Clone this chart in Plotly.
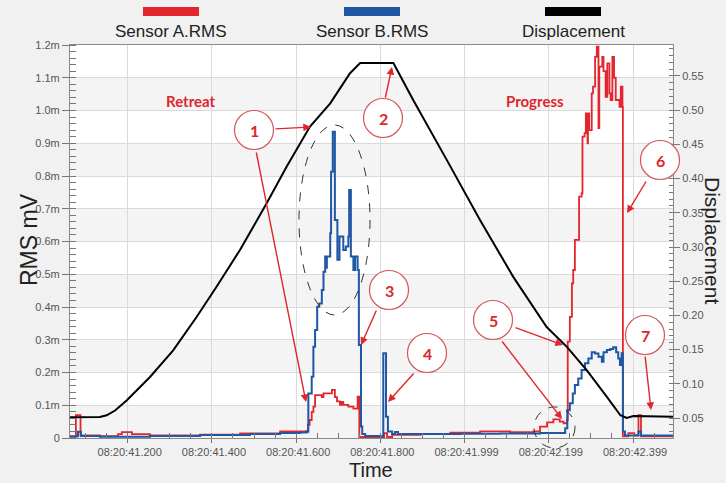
import plotly.graph_objects as go

# ---- data -------------------------------------------------------------
# time in seconds after 08:20:00, RMS values in m-units (1.0 -> "1.0m")
red_t = [41.063, 41.077, 41.088, 41.134, 41.177, 41.186, 41.210, 41.253, 41.372,
         41.467, 41.562, 41.609, 41.625, 41.628, 41.632, 41.637, 41.641, 41.645,
         41.661, 41.665, 41.676, 41.685, 41.692, 41.697, 41.704, 41.708, 41.712,
         41.724, 41.736, 41.746, 41.750, 41.806, 41.809, 41.816, 41.828, 41.895,
         41.966, 42.037, 42.108, 42.163, 42.179, 42.196, 42.211, 42.226, 42.235,
         42.243, 42.245, 42.250, 42.255, 42.258, 42.262, 42.272, 42.278, 42.280,
         42.285, 42.288, 42.292, 42.293, 42.296, 42.302, 42.305, 42.310, 42.314,
         42.318, 42.320, 42.327, 42.330, 42.335, 42.339, 42.344, 42.347, 42.351,
         42.355, 42.359, 42.368, 42.371, 42.375, 42.376, 42.389, 42.403, 42.413,
         42.419, 42.495]
red_v = [0.006, 0.070, 0.008, 0.006, 0.012, 0.018, 0.012, 0.008, 0.010,
         0.014, 0.020, 0.020, 0.022, 0.040, 0.055, 0.080, 0.096, 0.131,
         0.125, 0.136, 0.136, 0.147, 0.125, 0.112, 0.101, 0.110, 0.101,
         0.096, 0.090, 0.126, 0.003, 0.003, 0.015, 0.003, 0.010, 0.012,
         0.016, 0.020, 0.018, 0.020, 0.035, 0.048, 0.057, 0.050, 0.045,
         0.055, 0.294, 0.370, 0.472, 0.513, 0.605, 0.737, 0.747, 0.920,
         0.931, 0.991, 0.900, 0.991, 0.940, 1.052, 1.073, 1.164, 1.195,
         0.946, 1.134, 1.164, 1.120, 1.042, 1.144, 1.052, 1.032, 1.164,
         1.100, 1.032, 1.011, 1.073, 1.011, 0.005, 0.015, 0.008, 0.070,
         0.005, 0.005]

blue_t = [41.063, 41.077, 41.082, 41.089, 41.134, 41.253, 41.372, 41.490, 41.562,
          41.609, 41.625, 41.629, 41.637, 41.641, 41.645, 41.650, 41.655, 41.661,
          41.665, 41.669, 41.671, 41.673, 41.681, 41.683, 41.687, 41.692, 41.698,
          41.703, 41.712, 41.718, 41.724, 41.726, 41.730, 41.736, 41.740, 41.746,
          41.749, 41.754, 41.757, 41.764, 41.799, 41.807, 41.8135, 41.818, 41.828,
          41.835, 41.842, 41.895, 41.990, 42.085, 42.180, 42.239, 42.244, 42.250,
          42.257, 42.262, 42.270, 42.278, 42.286, 42.294, 42.302, 42.310, 42.318,
          42.326, 42.330, 42.338, 42.346, 42.353, 42.360, 42.365, 42.369, 42.373,
          42.376, 42.381, 42.413, 42.419, 42.495]
blue_v = [0.004, 0.005, 0.019, 0.006, 0.004, 0.006, 0.009, 0.012, 0.015,
          0.017, 0.019, 0.136, 0.187, 0.279, 0.330, 0.401, 0.411, 0.452,
          0.508, 0.554, 0.520, 0.554, 0.625, 0.813, 0.935, 0.666, 0.544,
          0.615, 0.574, 0.585, 0.615, 0.757, 0.554, 0.513, 0.554, 0.513,
          0.284, 0.035, 0.012, 0.006, 0.005, 0.259, 0.065, 0.020, 0.012,
          0.018, 0.012, 0.012, 0.013, 0.014, 0.015, 0.030, 0.085, 0.106,
          0.136, 0.162, 0.182, 0.208, 0.228, 0.243, 0.262, 0.258, 0.248,
          0.233, 0.262, 0.269, 0.272, 0.277, 0.262, 0.243, 0.223, 0.259,
          0.020, 0.008, 0.020, 0.008, 0.006]

disp_t = [41.063, 41.134, 41.150, 41.170, 41.198, 41.253, 41.308, 41.364, 41.411,
          41.467, 41.530, 41.578, 41.633, 41.681, 41.728, 41.752, 41.831, 41.878,
          41.958, 42.037, 42.116, 42.195, 42.243, 42.290, 42.338, 42.370, 42.385,
          42.401, 42.495]
disp_v = [0.051, 0.0515, 0.054, 0.061, 0.076, 0.110, 0.149, 0.198, 0.242,
          0.296, 0.364, 0.418, 0.476, 0.510, 0.554, 0.569, 0.569, 0.515,
          0.427, 0.339, 0.256, 0.183, 0.154, 0.120, 0.081, 0.054, 0.050,
          0.053, 0.052]

x_tickvals = [41.2, 41.4, 41.6, 41.8, 42.0, 42.2, 42.4]
x_ticktext = ["08:20:41.200", "08:20:41.400", "08:20:41.600", "08:20:41.800",
              "08:20:41.999", "08:20:42.199", "08:20:42.399"]
y_tickvals = [0, 0.1, 0.2, 0.3, 0.4, 0.5, 0.6, 0.7, 0.8, 0.9, 1.0, 1.1, 1.2]
y_ticktext = ["0", "0.1m", "0.2m", "0.3m", "0.4m", "0.5m", "0.6m", "0.7m",
              "0.8m", "0.9m", "1.0m", "1.1m", "1.2m"]
y2_tickvals = [0.05, 0.10, 0.15, 0.20, 0.25, 0.30, 0.35, 0.40, 0.45, 0.50, 0.55]
y2_ticktext = ["0.05", "0.10", "0.15", "0.20", "0.25", "0.30", "0.35", "0.40",
               "0.45", "0.50", "0.55"]

series_names = ["Sensor A.RMS", "Sensor B.RMS", "Displacement"]
series_colors = ["#e3262d", "#1f57a5", "#000000"]

# ---- geometry helpers (plot area in pixels) ----------------------------
W, H = 726, 483
ML, MR, MT, MB = 70, 53, 45, 45
PW, PH = W - ML - MR, H - MT - MB


def px(x):
    return (x - ML) / PW


def py(y):
    return (H - MB - y) / PH


def label(x, y, text, font, **kw):
    return dict(x=px(x), y=py(y), xref="paper", yref="paper", text=text,
                showarrow=False, xanchor="center", yanchor="middle",
                font=font, **kw)


RED = "#e0262c"
CIRCLE = "#d2575a"

fig = go.Figure()

fig.add_trace(go.Scatter(x=red_t, y=red_v, mode="lines", line_shape="hv",
                         line=dict(color=series_colors[0], width=1.8),
                         name=series_names[0], showlegend=False))
fig.add_trace(go.Scatter(x=blue_t, y=blue_v, mode="lines", line_shape="hv",
                         line=dict(color=series_colors[1], width=2),
                         name=series_names[1], showlegend=False))
fig.add_trace(go.Scatter(x=disp_t, y=disp_v, mode="lines", yaxis="y2",
                         line=dict(color=series_colors[2], width=2),
                         name=series_names[2], showlegend=False))

shapes = []
# alternating horizontal bands
for k in range(0, 12, 2):
    shapes.append(dict(type="rect", xref="paper", yref="y", x0=0, x1=1,
                       y0=y_tickvals[k], y1=y_tickvals[k + 1],
                       fillcolor="#f4f4f4", line_width=0, layer="below"))

# dashed ellipses
shapes.append(dict(type="circle", xref="paper", yref="paper",
                   x0=px(299), x1=px(370), y0=py(125), y1=py(315),
                   line=dict(color="#333333", width=1, dash="dash")))
shapes.append(dict(type="circle", xref="paper", yref="paper",
                   x0=px(534), x1=px(575), y0=py(407), y1=py(448),
                   line=dict(color="#333333", width=1, dash="dash")))

annotations = []

# arrows: (tail_x, tail_y, tip_x, tip_y)
arrows = [(274, 129, 311, 127), (256, 151, 306, 402), (385, 99, 392, 67),
          (377, 309, 361, 345), (415, 372, 388, 402), (514, 327, 563, 345),
          (501, 340, 562, 419), (647, 180, 627, 213), (645, 355, 651, 410)]
for tx, ty, hx, hy in arrows:
    annotations.append(dict(x=px(hx), y=py(hy), xref="paper", yref="paper",
                            ax=tx - hx, ay=ty - hy, text="", showarrow=True,
                            arrowhead=2, arrowsize=1.1, arrowwidth=1.4,
                            arrowcolor=RED, standoff=0))

# numbered callouts
callouts = [("1", 254, 130), ("2", 383, 118), ("3", 389, 290), ("4", 427, 353),
            ("5", 493, 320), ("6", 660, 160), ("7", 645, 335)]
r = 19.5
callout_font = dict(family="Lato, Arial", size=16, color=RED)
for num, cx, cy in callouts:
    shapes.append(dict(type="circle", xref="paper", yref="paper",
                       x0=px(cx - r), x1=px(cx + r), y0=py(cy + r), y1=py(cy - r),
                       fillcolor="white", line=dict(color=CIRCLE, width=1.2)))
    annotations.append(label(cx, cy, "<b>%s</b>" % num, callout_font))

phase_font = dict(family="Lato, Arial", size=15, color=RED)
annotations.append(label(191, 101, "<b>Retreat</b>", phase_font))
annotations.append(label(535, 101, "<b>Progress</b>", phase_font))

# legend swatches + labels above the plot
legend_font = dict(family="Liberation Sans, Arial", size=17, color="#222222")
for name, color, cx in zip(series_names, series_colors, [171, 372, 573]):
    shapes.append(dict(type="rect", xref="paper", yref="paper",
                       x0=px(cx - 28), x1=px(cx + 28), y0=py(16), y1=py(7),
                       fillcolor=color, line_width=0))
    annotations.append(label(cx, 32, name, legend_font))

# axis titles
title_font = dict(family="Liberation Sans, Arial", size=21, color="#222222")
annotations.append(label(29, 240, "RMS mV", dict(title_font, size=23),
                         textangle=-90))
annotations.append(label(713, 240, "Displacement", title_font, textangle=90))
annotations.append(label(371, 470, "Time", dict(title_font, size=20),
                         borderpad=0))

tickfont = dict(family="Liberation Sans, Arial", size=11, color="#555555")

fig.update_layout(
    width=W, height=H,
    margin=dict(l=ML, r=MR, t=MT, b=MB),
    paper_bgcolor="#f1f1f1",
    plot_bgcolor="white",
    shapes=shapes,
    annotations=annotations,
    xaxis=dict(range=[41.063, 42.495], tickmode="array", tickvals=x_tickvals,
               ticktext=x_ticktext, tickfont=tickfont, showgrid=True,
               gridcolor="#dadada", gridwidth=1, zeroline=False,
               showline=True, linecolor="#8a8a8a", mirror=True,
               ticks="outside", ticklen=4, tickcolor="#777777",
               ticklabelshift=2, ticklabelstandoff=0,
               minor=dict(tickmode="linear", tick0=41.2, dtick=0.05,
                          ticks="inside", ticklen=5, tickcolor="#777777",
                          showgrid=False)),
    yaxis=dict(range=[0, 1.2], tickmode="array", tickvals=y_tickvals,
               ticktext=y_ticktext, tickfont=tickfont, showgrid=True,
               gridcolor="#dadada", gridwidth=1, zeroline=False,
               showline=True, linecolor="#8a8a8a",
               ticks="outside", ticklen=7, tickcolor="#777777",
               minor=dict(tickmode="linear", tick0=0, dtick=0.02,
                          ticks="inside", ticklen=6, tickcolor="#777777",
                          showgrid=False)),
    yaxis2=dict(range=[0.0208, 0.5953], overlaying="y", side="right",
                tickmode="array", tickvals=y2_tickvals, ticktext=y2_ticktext,
                tickfont=tickfont, showgrid=False, zeroline=False,
                showline=True, linecolor="#8a8a8a",
                ticks="outside", ticklen=6, tickcolor="#777777",
                minor=dict(tickmode="linear", tick0=0.05, dtick=0.01,
                           ticks="inside", ticklen=4, tickcolor="#777777",
                           showgrid=False)),
)

fig.write_html("out.html")
